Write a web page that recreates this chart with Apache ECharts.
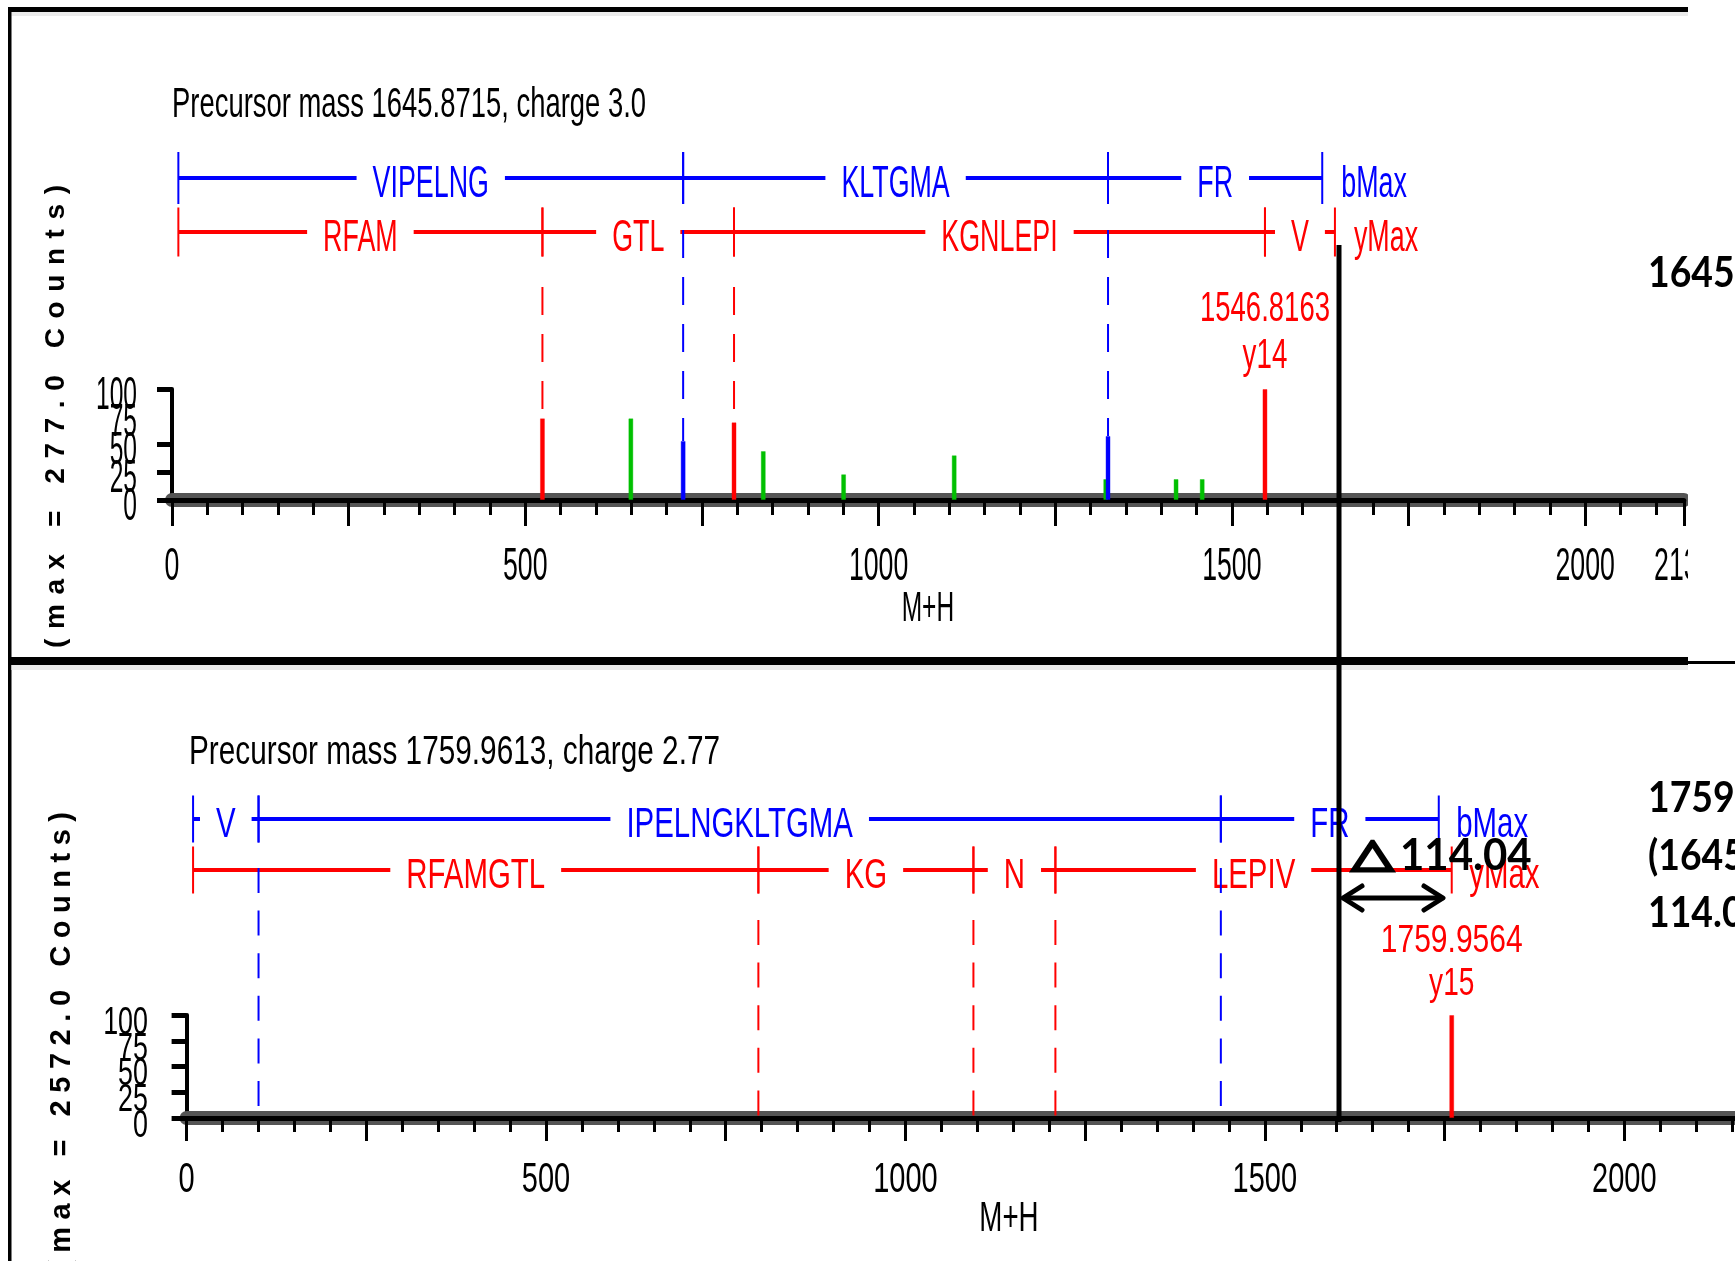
<!DOCTYPE html>
<html><head><meta charset="utf-8">
<script src="https://cdn.jsdelivr.net/npm/echarts@6/dist/echarts.min.js"></script>
<style>html,body{margin:0;padding:0;background:#fff}#c{width:1735px;height:1261px}</style>
</head><body><div id="c"></div>
<script>
// ================= DATA =================
const topPrecursor = 'Precursor mass 1645.8715, charge 3.0';
const botPrecursor = 'Precursor mass 1759.9613, charge 2.77';
const topYTitle = '(max = 277.0 Counts)';
const botYTitle = '(max = 2572.0 Counts)';
const xAxisName = 'M+H';
const topXMax = 2139.6;
const botXMax = 2288;
const topTickValues = [0, 500, 1000, 1500, 2000, 2139.6];
const topTickLabels = ['0', '500', '1000', '1500', '2000', '2139'];
const botTickValues = [0, 500, 1000, 1500, 2000];
const botTickLabels = ['0', '500', '1000', '1500', '2000'];
const yTickValues = [0, 25, 50, 75, 100];
const yTickLabels = ['0', '25', '50', '75', '100'];
const topYTickMarks = [0, 25, 50, 100];
const botYTickMarks = [0, 25, 50, 75, 100];

// fragment ladders (boundaries in M+H, names of segments)
const topBBounds = [9, 723.4, 1324.73, 1627.9];
const topBNames = ['VIPELNG', 'KLTGMA', 'FR'];
const topYBounds = [9, 524.26, 795.42, 1546.84, 1645.86];
const topYNames = ['RFAM', 'GTL', 'KGNLEPI', 'V'];
const botBBounds = [9, 100.08, 1438.77, 1741.94];
const botBNames = ['V', 'IPELNGKLTGMA', 'FR'];
const botYBounds = [9, 795.42, 1094.58, 1208.62, 1759.96];
const botYNames = ['RFAMGTL', 'KG', 'N', 'LEPIV'];
const bEndLabel = 'bMax';
const yEndLabel = 'yMax';

// peaks (relative intensity %)
const topPeakMz  = [524.26, 649.4, 723.4, 795.42, 836.8, 950.5, 1107, 1321.5, 1324.73, 1421, 1458, 1546.84];
const topPeakInt = [73.6, 73.6, 53.2, 70, 44.1, 23.2, 40.3, 18.9, 57.7, 18.9, 18.9, 100];
const topPeakIon = ['y', 'o', 'b', 'y', 'o', 'o', 'o', 'o', 'b', 'o', 'o', 'y'];
const botPeakMz  = [1759.96];
const botPeakInt = [100];
const botPeakIon = ['y'];

// matched-ion guide lines (dashed) : position and end intensity
const topDashB = [723.4, 1324.73];          const topDashBEnd = [53.2, 57.7];
const topDashY = [524.26, 795.42];          const topDashYEnd = [73.6, 70];
const botDashB = [100.08, 1438.77];         const botDashBEnd = [0, 0];
const botDashY = [795.42, 1094.58, 1208.62]; const botDashYEnd = [0, 0, 0];

// labelled peaks
const topLabMz = [1546.84]; const topLabInt = [100]; const topLabMass = ['1546.8163']; const topLabIon = ['y14'];
const botLabMz = [1759.96]; const botLabInt = [100]; const botLabMass = ['1759.9564']; const botLabIon = ['y15'];

// annotations
const deltaSymbol = '△';
const deltaValue = '114.04';
const sideTopLines = ['1645.87'];
const sideBotLines = ['1759.96', '(1645.87 +', '114.04)'];

// ================= RENDER =================
const SANS = '"Liberation Sans", Arial, sans-serif';
const BOLD = 'Lato, "Open Sans", sans-serif';
const DEJA = '"DejaVu Sans", sans-serif';
const COL = { b: '#0000ff', y: '#ff0000', o: '#00c000' };
const mctx = document.createElement('canvas').getContext('2d');
function measure(t, size, fam, weight) { mctx.font = (weight || 'normal') + ' ' + size + 'px ' + fam; return mctx.measureText(t).width; }

function stext(t, x, y, F, sx, fill, align, extra) {
  return Object.assign({
    type: 'text', x: x, y: y, scaleX: sx, scaleY: 1, silent: true,
    style: { text: t, fontSize: F, fontFamily: SANS, fill: fill || '#000', align: align || 'center', verticalAlign: 'middle' }
  }, extra || {});
}

const P = {
  top: { xi: 0, yi: 0, grid: { left: 172, top: 389, width: 1511.8, height: 111 }, xmax: topXMax,
    bRow: 178, yRow: 232, bTick: 26, yTick: 24.5, labF: 44, labSx: 0.61, labDy: 7, endGap: 19,
    dash: [28, 19], bDashStart: 230, yDashStart: 287,
    tickF: 46, tickSx: 0.58, tickDy: 67, yLabF: 45.5, yLabSx: 0.54, yLabGap: 35, yLabDy: 7,
    peakF: 43, massSx: 0.64, ionSx: 0.645, massDy: -79.5, ionDy: -33, majorLen: 26, minorLen: 15 },
  bot: { xi: 2, yi: 1, grid: { left: 186.6, top: 1015, width: 1644.7, height: 103 }, xmax: botXMax,
    bRow: 819, yRow: 870, bTick: 23.5, yTick: 23.5, labF: 42, labSx: 0.70, labDy: 6, endGap: 17.5,
    dash: [25, 17.6], bDashStart: 868, yDashStart: 920,
    tickF: 42, tickSx: 0.69, tickDy: 62, yLabF: 39.5, yLabSx: 0.68, yLabGap: 38.6, yLabDy: 8,
    peakF: 39, massSx: 0.77, ionSx: 0.72, massDy: -74, ionDy: -30.5, majorLen: 23, minorLen: 14 }
};

function xAxes(p, gi) {
  return [
    { gridIndex: gi, type: 'value', position: 'bottom', min: 0, max: p.xmax, interval: 50,
      axisLine: { show: true, onZero: true, lineStyle: { color: '#555', width: 14 } },
      axisTick: { show: true, length: p.minorLen, lineStyle: { color: '#000', width: 3 } },
      axisLabel: { show: false }, splitLine: { show: false } },
    { gridIndex: gi, type: 'value', position: 'bottom', min: 0, max: p.xmax, interval: 250,
      axisLine: { show: true, onZero: true, lineStyle: { color: '#000', width: 5 } },
      axisTick: { show: true, length: p.majorLen, lineStyle: { color: '#000', width: 3 } },
      axisLabel: { show: false }, splitLine: { show: false } }
  ];
}
function yAxis(p, gi, marks) {
  return { gridIndex: gi, type: 'value', min: 0, max: 100, interval: 25,
    axisLine: { show: true, onZero: true, lineStyle: { color: '#000', width: 4 } },
    axisTick: { show: true, length: 15, customValues: marks, lineStyle: { color: '#000', width: 5 } },
    axisLabel: { show: false }, splitLine: { show: false } };
}

function ladder(p, bounds, names, endLabel, rowY, tickHalf, color) {
  const segs = names.map((n, i) => [bounds[i], bounds[i + 1]]);
  const pad = 16 / p.labSx;
  return { type: 'custom', xAxisIndex: p.xi, yAxisIndex: p.yi, clip: false, silent: true, z: 3,
    data: segs,
    renderItem: function (params, api) {
      const i = params.dataIndex;
      const x0 = api.coord([api.value(0), 0])[0], x1 = api.coord([api.value(1), 0])[0];
      const ch = [
        { type: 'line', shape: { x1: x0, y1: rowY, x2: x1, y2: rowY }, style: { stroke: color, lineWidth: 4 } },
        { type: 'text', x: (x0 + x1) / 2, y: rowY + p.labDy, scaleX: p.labSx, scaleY: 1,
          style: { text: names[i], fontSize: p.labF, fontFamily: SANS, fill: color, align: 'center', verticalAlign: 'middle',
                   backgroundColor: '#fff', padding: [0, pad] } },
        { type: 'line', shape: { x1: x0, y1: rowY - tickHalf, x2: x0, y2: rowY + tickHalf }, style: { stroke: color, lineWidth: 2 } },
        { type: 'line', shape: { x1: x1, y1: rowY - tickHalf, x2: x1, y2: rowY + tickHalf }, style: { stroke: color, lineWidth: 2 } }
      ];
      if (i === segs.length - 1) {
        ch.push({ type: 'text', x: x1 + p.endGap, y: rowY + p.labDy, scaleX: p.labSx, scaleY: 1,
          style: { text: endLabel, fontSize: p.labF, fontFamily: SANS, fill: color, align: 'left', verticalAlign: 'middle' } });
      }
      return { type: 'group', children: ch };
    } };
}
function dashes(p, xs, ends, startY, color) {
  return { type: 'custom', xAxisIndex: p.xi, yAxisIndex: p.yi, clip: false, silent: true, z: 4,
    data: xs.map((x, i) => [x, ends[i]]),
    renderItem: function (params, api) {
      const a = api.coord([api.value(0), api.value(1)]);
      return { type: 'line', shape: { x1: a[0], y1: startY, x2: a[0], y2: a[1] },
               style: { stroke: color, lineWidth: 2, lineDash: p.dash } };
    } };
}
function bars(p, mz, inten, ion) {
  return { type: 'bar', xAxisIndex: p.xi, yAxisIndex: p.yi, barWidth: 5, silent: true, z: 2,
    data: mz.map((m, i) => ({ value: [m, inten[i]],
      itemStyle: { color: COL[ion[i]], borderColor: COL[ion[i]] + '66', borderWidth: 1 } })) };
}
function peakLabels(p, mz, inten, mass, ion, color) {
  return { type: 'custom', xAxisIndex: p.xi, yAxisIndex: p.yi, clip: false, silent: true, z: 5,
    data: mz.map((m, i) => [m, inten[i]]),
    renderItem: function (params, api) {
      const a = api.coord([api.value(0), api.value(1)]);
      const i = params.dataIndex;
      return { type: 'group', children: [
        stext(mass[i], a[0], a[1] + p.massDy, p.peakF, p.massSx, color),
        stext(ion[i], a[0], a[1] + p.ionDy, p.peakF, p.ionSx, color) ] };
    } };
}
function xLabels(p, values, labels) {
  return { type: 'custom', xAxisIndex: p.xi, yAxisIndex: p.yi, clip: false, silent: true, z: 5,
    data: values.map(v => [v, 0]),
    renderItem: function (params, api) {
      const a = api.coord([api.value(0), 0]);
      return stext(labels[params.dataIndex], a[0], a[1] + p.tickDy, p.tickF, p.tickSx, '#000');
    } };
}
function yLabels(p, values, labels) {
  return { type: 'custom', xAxisIndex: p.xi, yAxisIndex: p.yi, clip: false, silent: true, z: 5,
    data: values.map(v => [0, v]),
    renderItem: function (params, api) {
      const a = api.coord([0, api.value(1)]);
      return stext(labels[params.dataIndex], a[0] - p.yLabGap, a[1] + p.yLabDy, p.yLabF, p.yLabSx, '#000', 'right');
    } };
}

// vertical, letter-spaced axis title
function vTitle(str, cx, yStart, yEnd, F) {
  const chars = Array.from(str);
  const w = chars.map(c => measure(c, F, SANS, 'bold'));
  const total = w.reduce((s, v) => s + v, 0);
  const gap = ((yStart - yEnd) - total) / (chars.length - 1);
  let pos = yStart;
  const out = [];
  chars.forEach((c, i) => {
    if (c !== ' ') out.push({ type: 'text', x: cx, y: pos - w[i] / 2, rotation: Math.PI / 2, silent: true, z: 10,
      style: { text: c, fontSize: F, fontFamily: SANS, fontWeight: 'bold', fill: '#000', align: 'center', verticalAlign: 'middle' } });
    pos -= w[i] + gap;
  });
  return out;
}
function fitText(t, x, y, F, width, extra) {
  const sx = width / measure(t, F, SANS);
  return stext(t, x, y, F, sx, '#000', 'left', extra);
}
function boldText(t, x, y, F, sx, fam, extraStyle) {
  return { type: 'text', x: x, y: y, scaleX: sx, scaleY: 1, silent: true, z: 40,
    style: Object.assign({ text: t, fontSize: F, fontFamily: fam || BOLD, fontWeight: 'bold', fill: '#000', align: 'left', verticalAlign: 'middle' }, extraStyle || {}) };
}

const T = P.top, B = P.bot;
const gTop = T.grid, gBot = B.grid;

const graphics = [].concat(
  [
    fitText(topPrecursor, 172, 105, 42, 474, { z: 10 }),
    fitText(botPrecursor, 189, 752.5, 40.5, 531, { z: 10 }),
    stext(xAxisName, gTop.left + gTop.width / 2, 609.5, 43, 0.57, '#000', 'center', { z: 10 }),
    stext(xAxisName, gBot.left + gBot.width / 2, 1219, 42, 0.66, '#000', 'center', { z: 10 })
  ],
  vTitle(topYTitle, 56.5, 648, 185, 28),
  vTitle(botYTitle, 62, 1270, 812, 29),
  [
    // frame lines
    { type: 'rect', shape: { x: 1688, y: 0, width: 47, height: 657 }, style: { fill: '#fff' }, silent: true, z: 20 },
    { type: 'rect', shape: { x: 8, y: 7, width: 1680, height: 5 }, style: { fill: '#000' }, silent: true, z: 21 },
    { type: 'rect', shape: { x: 11.5, y: 12, width: 1676.5, height: 4 }, style: { fill: '#ebebeb' }, silent: true, z: 21 },
    { type: 'rect', shape: { x: 8, y: 7, width: 3.5, height: 1254 }, style: { fill: '#000' }, silent: true, z: 21 },
    { type: 'rect', shape: { x: 8, y: 657, width: 1680, height: 8 }, style: { fill: '#000' }, silent: true, z: 21 },
    { type: 'rect', shape: { x: 1688, y: 661, width: 47, height: 3 }, style: { fill: '#000' }, silent: true, z: 21 },
    { type: 'rect', shape: { x: 11.5, y: 665, width: 1676.5, height: 5 }, style: { fill: '#ebebeb' }, silent: true, z: 21 },
    // overlay annotations
    { type: 'rect', shape: { x: 1336.5, y: 245, width: 5, height: 877 }, style: { fill: '#000' }, silent: true, z: 30 },
    { type: 'line', shape: { x1: 1344, y1: 898, x2: 1442, y2: 898 }, style: { stroke: '#000', lineWidth: 5, lineCap: 'round' }, silent: true, z: 30 },
    { type: 'polyline', shape: { points: [[1362, 886], [1343, 898], [1362, 910]] }, style: { stroke: '#000', fill: null, lineWidth: 5, lineCap: 'round', lineJoin: 'round' }, silent: true, z: 30 },
    { type: 'polyline', shape: { points: [[1424, 886], [1443, 898], [1424, 910]] }, style: { stroke: '#000', fill: null, lineWidth: 5, lineCap: 'round', lineJoin: 'round' }, silent: true, z: 30 },
    boldText(deltaSymbol, 1352, 856, 40, 41 / measure(deltaSymbol, 40, DEJA, 'bold'), DEJA, { stroke: '#000', lineWidth: 3, lineJoin: 'round' }),
    boldText(deltaValue, 1400, 855.5, 44, 131.7 / measure(deltaValue, 44, BOLD, 'bold'))
  ],
  sideTopLines.map((t, i) => boldText(t, 1648, 273.5 + i * 57.5, 42, 0.89)),
  sideBotLines.map((t, i) => boldText(t, 1648, 798.5 + i * 57.5, 42, 0.89))
);

const option = {
  animation: false,
  backgroundColor: '#fff',
  grid: [
    Object.assign({ containLabel: false, outerBoundsMode: 'none' }, gTop),
    Object.assign({ containLabel: false, outerBoundsMode: 'none' }, gBot)
  ],
  xAxis: [].concat(xAxes(T, 0), xAxes(B, 1)),
  yAxis: [yAxis(T, 0, topYTickMarks), yAxis(B, 1, botYTickMarks)],
  series: [
    bars(T, topPeakMz, topPeakInt, topPeakIon),
    bars(B, botPeakMz, botPeakInt, botPeakIon),
    ladder(T, topBBounds, topBNames, bEndLabel, T.bRow, T.bTick, COL.b),
    ladder(T, topYBounds, topYNames, yEndLabel, T.yRow, T.yTick, COL.y),
    ladder(B, botBBounds, botBNames, bEndLabel, B.bRow, B.bTick, COL.b),
    ladder(B, botYBounds, botYNames, yEndLabel, B.yRow, B.yTick, COL.y),
    dashes(T, topDashB, topDashBEnd, T.bDashStart, COL.b),
    dashes(T, topDashY, topDashYEnd, T.yDashStart, COL.y),
    dashes(B, botDashB, botDashBEnd, B.bDashStart, COL.b),
    dashes(B, botDashY, botDashYEnd, B.yDashStart, COL.y),
    peakLabels(T, topLabMz, topLabInt, topLabMass, topLabIon, COL.y),
    peakLabels(B, botLabMz, botLabInt, botLabMass, botLabIon, COL.y),
    xLabels(T, topTickValues, topTickLabels),
    xLabels(B, botTickValues, botTickLabels),
    yLabels(T, yTickValues, yTickLabels),
    yLabels(B, yTickValues, yTickLabels)
  ],
  graphic: { elements: graphics }
};

const chart = echarts.init(document.getElementById('c'), null, { renderer: 'canvas', width: 1735, height: 1261 });
chart.setOption(option);
</script>
</body></html>
